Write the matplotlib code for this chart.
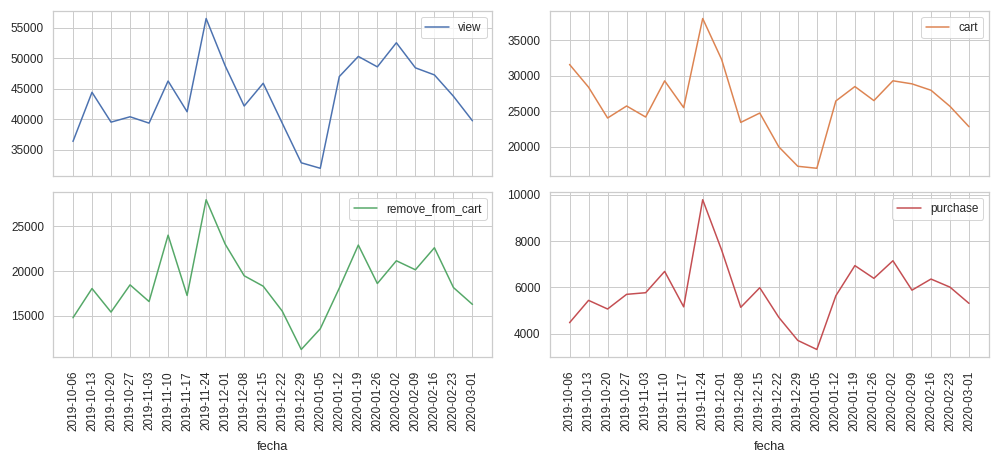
import pandas as pd
import matplotlib.pyplot as plt
import seaborn as sns

fechas = pd.date_range("2019-10-06", "2020-03-01", freq="7D")

view = [36400, 44450, 39560, 40440, 39400, 46300, 41260, 56540, 48800, 42200, 45930,
        39400, 32900, 32000, 47030, 50330, 48620, 52570, 48460, 47300, 43800, 39780]
cart = [31600, 28400, 24060, 25750, 24200, 29290, 25520, 38070, 32270, 23440, 24760,
        20000, 17260, 16980, 26460, 28490, 26510, 29300, 28870, 27970, 25700, 22830]
remove_from_cart = [14775, 18050, 15410, 18460, 16590, 24030, 17270, 28000, 23030, 19480, 18310,
                    15520, 11220, 13540, 18100, 22920, 18610, 21160, 20150, 22620, 18160, 16270]
purchase = [4476, 5440, 5067, 5700, 5770, 6690, 5160, 9784, 7600, 5140, 5985,
            4707, 3710, 3320, 5640, 6940, 6390, 7150, 5880, 6360, 6010, 5310]

series = {"view": view, "cart": cart,
          "remove_from_cart": remove_from_cart, "purchase": purchase}

sns.set_theme(style="whitegrid", font_scale=1.07)
plt.rcParams['font.family'] = ['Liberation Sans', 'DejaVu Sans']

colors = sns.color_palette("deep")
fig, axes = plt.subplots(2, 2, figsize=(1000 / 72, 460 / 72), dpi=72, sharex=True)
fig.subplots_adjust(left=0.053, right=0.989, top=0.976, bottom=0.224,
                    wspace=0.13, hspace=0.10)

labels = [d.strftime("%Y-%m-%d") for d in fechas]
for i, (ax, (name, vals)) in enumerate(zip(axes.flat, series.items())):
    ax.plot(fechas, vals, color=colors[i], label=name)
    ax.legend(loc="upper right")
    ax.tick_params(axis="y", pad=3)
    ax.set_xticks(fechas)
    if i >= 2:
        ax.set_xticklabels(labels, rotation=90)
        ax.set_xlabel("fecha", labelpad=10)
        ax.tick_params(axis="x", pad=8)

fig.savefig("out.png", dpi=72)
